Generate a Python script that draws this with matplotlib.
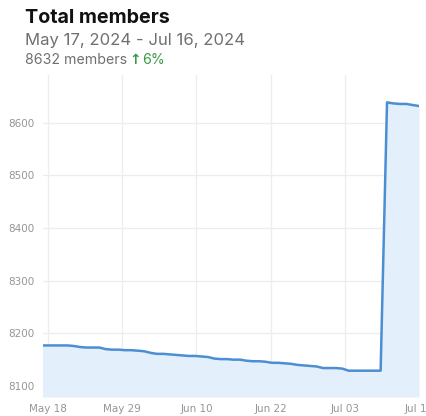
import matplotlib
matplotlib.use("Agg")
import matplotlib.pyplot as plt

# Daily member counts, day 0 = May 17, 2024
days = list(range(60))
members = [8177, 8177, 8177, 8177, 8177, 8176,
           8174, 8173, 8173, 8173,
           8170, 8169, 8169, 8168, 8168, 8167, 8166,
           8163, 8161, 8161, 8160, 8159,
           8158, 8157, 8157, 8156, 8155,
           8152, 8151, 8151, 8150, 8150,
           8148, 8147, 8147, 8146,
           8144, 8144, 8143, 8142,
           8140, 8139, 8138, 8137,
           8134, 8134, 8134, 8133,
           8129, 8129, 8129, 8129, 8129, 8129,
           8639, 8637, 8636, 8636, 8634, 8632]

xtick_days = [1, 12.6, 24.2, 35.8, 47.4, 59]
xtick_labels = ["May 18", "May 29", "Jun 10", "Jun 22", "Jul 03", "Jul 15"]
ytick_values = [8100, 8200, 8300, 8400, 8500, 8600]

line_color = "#4b8fd2"
fill_color = "#e4effc"
grid_color = "#ededed"
label_color = "#959595"
green = "#3a9a48"

fig = plt.figure(figsize=(4.27, 4.16), dpi=100)
ax = fig.add_axes([43 / 427, 19 / 416, 376 / 427, 322 / 416])

ymin, ymax = 8079, 8691
ax.fill_between(days, members, ymin, color=fill_color, linewidth=0)
ax.plot(days, members, color=line_color, linewidth=1.8, solid_joinstyle="round")

ax.set_xlim(0.2, 59.0)
ax.set_ylim(ymin, ymax)

ax.set_xticks(xtick_days)
ax.set_xticklabels(xtick_labels)
ax.set_yticks(ytick_values)
ax.set_yticklabels([str(v) for v in ytick_values])

ax.grid(True, color=grid_color, linewidth=0.9)
ax.set_axisbelow(True)
for s in ax.spines.values():
    s.set_visible(False)
ax.tick_params(length=0, colors=label_color, labelsize=7.5)
ax.tick_params(axis="x", pad=5)
ax.tick_params(axis="y", pad=6)

# header
fig.text(25 / 427, 1 - 18 / 416, "Total members", fontsize=14.2, fontweight="bold",
         family="Inter", color="#111111", va="center", ha="left")
fig.text(25 / 427, 1 - 40 / 416, "May 17, 2024 - Jul 16, 2024", fontsize=12,
         family="Inter", color="#707070", va="center", ha="left")
t = fig.text(25 / 427, 1 - 60 / 416, "8632 members", fontsize=10.2,
             family="Inter", color="#707070", va="center", ha="left")
fig.canvas.draw()
bb = t.get_window_extent()
arrow = fig.text((bb.x1 + 2) / 427, 1 - 60 / 416, "\u2191", fontsize=10,
                 family="DejaVu Sans", color=green, va="center", ha="left",
                 fontweight="bold")
fig.canvas.draw()
ab = arrow.get_window_extent()
fig.text((ab.x1 + 1) / 427, 1 - 60 / 416, "6%", fontsize=10.2, family="Inter",
         color=green, va="center", ha="left")

fig.savefig("out.png", dpi=100)
